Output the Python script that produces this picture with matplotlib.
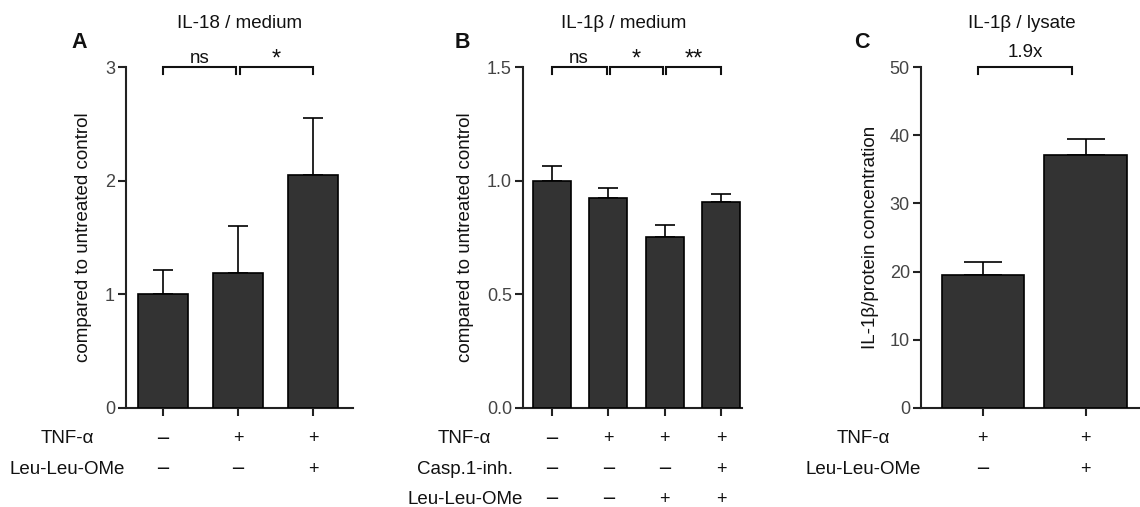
import matplotlib
matplotlib.use("Agg")
import matplotlib.pyplot as plt

plt.rcParams['font.family'] = ['Liberation Sans', 'DejaVu Sans']

# panel A: IL-18 / medium
a_values = [1.0, 1.19, 2.05]
a_errors = [0.21, 0.41, 0.50]
a_rows = ["TNF-α", "Leu-Leu-OMe"]
a_signs = [["−", "+", "+"], ["−", "−", "+"]]
a_sig = [("ns", 0, 0.97), ("*", 1.03, 2)]

# panel B: IL-1β / medium
b_values = [1.0, 0.924, 0.752, 0.905]
b_errors = [0.065, 0.043, 0.053, 0.035]
b_rows = ["TNF-α", "Casp.1-inh.", "Leu-Leu-OMe"]
b_signs = [["−", "+", "+", "+"], ["−", "−", "−", "+"], ["−", "−", "+", "+"]]
b_sig = [("ns", 0, 0.97), ("*", 1.03, 1.97), ("**", 2.03, 3)]

# panel C: IL-1β / lysate
c_values = [19.5, 37.1]
c_errors = [1.9, 2.3]
c_rows = ["TNF-α", "Leu-Leu-OMe"]
c_signs = [["+", "+"], ["−", "+"]]
c_sig = [("1.9x", -0.05, 0.87)]

W, H = 1140, 507
fig = plt.figure(figsize=(W / 100, H / 100), dpi=100)

GREY = "#333333"


def px_axes(x0, x1, y0, y1):
    return fig.add_axes([x0 / W, 1 - y1 / H, (x1 - x0) / W, (y1 - y0) / H])


def draw_panel(ax, values, errors, width, capsize, ylim, yticks, yticklabels,
               xlim, ylabel, labelpad, sig, rows, signs, label_x, tip, text_gap=3):
    xs = list(range(len(values)))
    ax.bar(xs, values, width=width, color=GREY, edgecolor="black", linewidth=1.2, zorder=3)
    ax.errorbar(xs, values, yerr=[[0] * len(values), errors], fmt="none",
                ecolor="black", elinewidth=1.2, capsize=capsize, capthick=1.2, zorder=2)
    ax.set_xlim(*xlim)
    ax.set_ylim(*ylim)
    ax.set_yticks(yticks)
    ax.set_yticklabels(yticklabels)
    ax.set_xticks(xs)
    ax.set_xticklabels([])
    for s in ["top", "right"]:
        ax.spines[s].set_visible(False)
    for s in ["left", "bottom"]:
        ax.spines[s].set_linewidth(1.5)
        ax.spines[s].set_color("#222222")
    ax.tick_params(axis="both", length=6, width=1.5, color="#222222",
                   labelsize=13, labelcolor="#444444", pad=2)
    ax.set_ylabel(ylabel, fontsize=13.5, color="#111111", labelpad=labelpad)

    top = ylim[1]
    for text, x0, x1 in sig:
        ax.plot([x0, x0, x1, x1], [top - tip, top, top, top - tip], color="#111111",
                linewidth=1.5, clip_on=False, solid_joinstyle="miter")
        if "*" in text:
            # asterisks sit low, right over the bracket
            ax.annotate(text, ((x0 + x1) / 2, top), xytext=(0, 1), textcoords="offset points",
                        ha="center", va="baseline", fontsize=17, color="#111111",
                        annotation_clip=False)
        else:
            ax.annotate(text, ((x0 + x1) / 2, top), xytext=(0, text_gap), textcoords="offset points",
                        ha="center", va="baseline", fontsize=13.5, color="#111111",
                        annotation_clip=False)

    trans = ax.get_xaxis_transform()
    for i, (name, row) in enumerate(zip(rows, signs)):
        y = -0.09 - i * 0.089
        ax.text(label_x, y, name, transform=trans, ha="center", va="center",
                fontsize=13.5, color="#111111", clip_on=False)
        for x, s in zip(xs, row):
            # wider minus sign like the original
            fam = ["DejaVu Sans"] if s == "−" else ["Liberation Sans"]
            ax.text(x, y, s, transform=trans, ha="center", va="center", family=fam,
                    fontsize=13, color="#111111", clip_on=False)


# panel A
ax_a = px_axes(126, 353, 67, 408)
draw_panel(ax_a, a_values, a_errors, 0.67, 7, (0, 3), [0, 1, 2, 3], ["0", "1", "2", "3"],
           (-0.49, 2.53), "compared to untreated control", 9.5, a_sig,
           a_rows, a_signs, -1.27, 0.06)

# panel B
ax_b = px_axes(523, 742, 67, 408)
draw_panel(ax_b, b_values, b_errors, 0.67, 7, (0, 1.5), [0, 0.5, 1.0, 1.5],
           ["0.0", "0.5", "1.0", "1.5"], (-0.51, 3.37), "compared to untreated control", 9.5,
           b_sig, b_rows, b_signs, -1.54, 0.03)

# panel C
ax_c = px_axes(921, 1140, 67, 408)
draw_panel(ax_c, c_values, c_errors, 0.8, 14, (0, 50), [0, 10, 20, 30, 40, 50],
           ["0", "10", "20", "30", "40", "50"], (-0.6, 1.53),
           "IL-1β/protein concentration", 8, c_sig, c_rows, c_signs, -1.16, 1.0, text_gap=7)

# titles and panel letters
titles = [("IL-18 / medium", 240), ("IL-1β / medium", 624), ("IL-1β / lysate", 1022)]
for t, x in titles:
    fig.text(x / W, 1 - 23 / H, t, ha="center", va="center", fontsize=13.5, color="#111111")
letters = [("A", 79), ("B", 462), ("C", 862)]
for t, x in letters:
    fig.text(x / W, 1 - 43 / H, t, ha="center", va="center", fontsize=15.5,
             fontweight="bold", color="#111111")

fig.savefig("out.png", dpi=100)
